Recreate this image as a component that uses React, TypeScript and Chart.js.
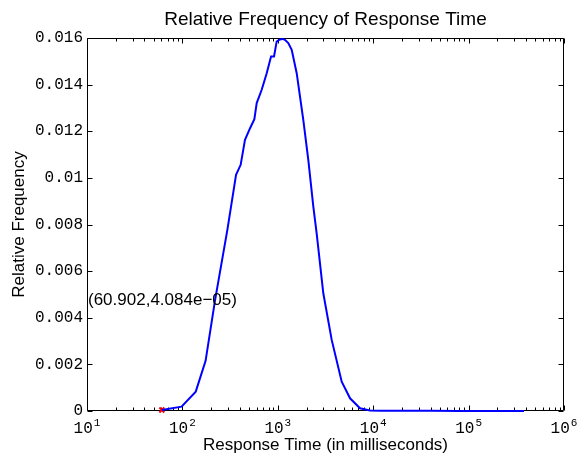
import React, { useEffect, useRef } from "react";
import { Chart, registerables } from "chart.js";

Chart.register(...registerables);

// ---- data ----
const responseTimes: number[] = [
  60.902, 98, 138, 175, 220, 296, 365, 408, 453, 512, 568, 601, 678, 765, 850,
  913, 973, 1054, 1120, 1189, 1288, 1399, 1578, 1850, 2088, 2357, 2553, 2999,
  3673, 4676, 5718, 7278, 9250, 12000, 20000, 40000, 80000, 150000, 250000,
  381000,
];
const relFrequency: number[] = [
  4.084e-5, 0.000185, 0.00083, 0.00215, 0.00476, 0.00777, 0.01013, 0.01056,
  0.01163, 0.01213, 0.01252, 0.01321, 0.01378, 0.01449, 0.01521, 0.01521,
  0.01585, 0.01594, 0.01596, 0.01592, 0.01578, 0.01549, 0.01449, 0.01249,
  0.01077, 0.00877, 0.00763, 0.00505, 0.00305, 0.00126, 0.000545, 0.000116,
  0.00002, 0.000015, 0.000008, 0.000006, 0.000005, 0.000004, 0.000003,
  0.000002,
];
const markerX = 60.902;
const markerY = 4.084e-5;
const annotationText = "(60.902,4.084e\u221205)";
const annotationY = 0.00476;

const yTickValues: number[] = [0, 0.002, 0.004, 0.006, 0.008, 0.01, 0.012, 0.014, 0.016];
const yTickLabels: string[] = ["0", "0.002", "0.004", "0.006", "0.008", "0.01", "0.012", "0.014", "0.016"];
const xTickExponents: number[] = [1, 2, 3, 4, 5, 6];

const titleText = "Relative Frequency of Response Time";
const xTitle = "Response Time (in milliseconds)";
const yTitle = "Relative Frequency";

const SANS = '"Liberation Sans", Arial, Helvetica, sans-serif';
const MONO = '"Liberation Mono", "Courier New", monospace';

const matlabAxes = {
  id: "matlabAxes",
  beforeDatasetsDraw(chart: any) {
    const { ctx, chartArea } = chart;
    const { left, right, top, bottom } = chartArea;
    const xs = chart.scales.x;
    const ys = chart.scales.y;
    ctx.save();
    ctx.strokeStyle = "#000";
    ctx.lineWidth = 1;
    const L = Math.round(left) + 0.5;
    const R = Math.round(right) - 0.5;
    const T = Math.round(top) + 0.5;
    const B = Math.round(bottom) - 0.5;
    ctx.beginPath();
    ctx.rect(L, T, R - L, B - T);
    ctx.stroke();

    // x ticks (log)
    ctx.beginPath();
    for (let d = 1; d <= 6; d++) {
      for (let m = 1; m <= 9; m++) {
        const v = m * Math.pow(10, d);
        if (v > 1e6 + 1) break;
        const px = Math.round(xs.getPixelForValue(v)) + 0.5;
        const len = m === 1 ? 5 : 3;
        ctx.moveTo(px, B);
        ctx.lineTo(px, B - len);
        ctx.moveTo(px, T);
        ctx.lineTo(px, T + len);
      }
    }
    // y ticks
    yTickValues.forEach((v) => {
      const py = Math.round(ys.getPixelForValue(v)) + 0.5;
      ctx.moveTo(L, py);
      ctx.lineTo(L + 5, py);
      ctx.moveTo(R, py);
      ctx.lineTo(R - 5, py);
    });
    ctx.stroke();
    ctx.restore();
  },
  afterDraw(chart: any) {
    const { ctx, chartArea } = chart;
    const { left, right, top, bottom } = chartArea;
    const xs = chart.scales.x;
    const ys = chart.scales.y;
    ctx.save();
    ctx.fillStyle = "#000";

    // y tick labels
    ctx.font = `16px ${MONO}`;
    ctx.textAlign = "right";
    ctx.textBaseline = "middle";
    yTickValues.forEach((v, i) => {
      ctx.fillText(yTickLabels[i], left - 4, ys.getPixelForValue(v));
    });

    // x tick labels with superscripts
    ctx.textBaseline = "alphabetic";
    ctx.textAlign = "left";
    xTickExponents.forEach((e) => {
      const px = xs.getPixelForValue(Math.pow(10, e));
      ctx.font = `16px ${MONO}`;
      const wb = ctx.measureText("10").width;
      ctx.font = `11px ${MONO}`;
      const ws = ctx.measureText(String(e)).width;
      const start = px - (wb + ws + 1) / 2;
      ctx.font = `16px ${MONO}`;
      ctx.fillText("10", start, bottom + 22);
      ctx.font = `11px ${MONO}`;
      ctx.fillText(String(e), start + wb + 1, bottom + 15);
    });

    // titles
    const cx = (left + right) / 2;
    ctx.textAlign = "center";
    ctx.font = `19px ${SANS}`;
    ctx.fillText(titleText, cx, top - 13);
    ctx.font = `17px ${SANS}`;
    ctx.fillText(xTitle, cx, bottom + 39);
    ctx.save();
    ctx.translate(24, (top + bottom) / 2);
    ctx.rotate(-Math.PI / 2);
    ctx.fillText(yTitle, 0, 0);
    ctx.restore();

    // annotation
    ctx.font = `17px ${SANS}`;
    ctx.textAlign = "left";
    ctx.textBaseline = "middle";
    ctx.fillText(annotationText, xs.getPixelForValue(10) + 1, ys.getPixelForValue(annotationY));
    ctx.restore();
  },
};

export default function App() {
  const ref = useRef<HTMLCanvasElement | null>(null);
  useEffect(() => {
    if (!ref.current) return;
    const chart = new Chart(ref.current, {
      type: "line",
      data: {
        datasets: [
          {
            data: responseTimes.map((x, i) => ({ x, y: relFrequency[i] })),
            borderColor: "#0000ff",
            backgroundColor: "#0000ff",
            borderWidth: 2,
            pointRadius: 0,
            tension: 0,
            fill: false,
            clip: 3,
          } as any,
          {
            data: [{ x: markerX, y: markerY }],
            showLine: false,
            pointStyle: "crossRot",
            pointRadius: 3.5,
            borderColor: "#ff0000",
            backgroundColor: "#ff0000",
            borderWidth: 2,
            clip: false,
          } as any,
        ],
      },
      options: {
        responsive: false,
        animation: false,
        devicePixelRatio: 1,
        layout: { padding: { left: 87, right: 15, top: 38, bottom: 48 } },
        plugins: {
          legend: { display: false },
          title: { display: false },
          tooltip: { enabled: false },
        },
        scales: {
          x: { type: "logarithmic", min: 10, max: 1e6, display: false },
          y: { type: "linear", min: 0, max: 0.016, display: false },
        },
      },
      plugins: [matlabAxes],
    });
    return () => chart.destroy();
  }, []);
  return (
    <div style={{ position: "fixed", left: 0, top: 0, width: 579, height: 459, background: "#fff" }}>
      <canvas ref={ref} width={579} height={459} />
    </div>
  );
}
